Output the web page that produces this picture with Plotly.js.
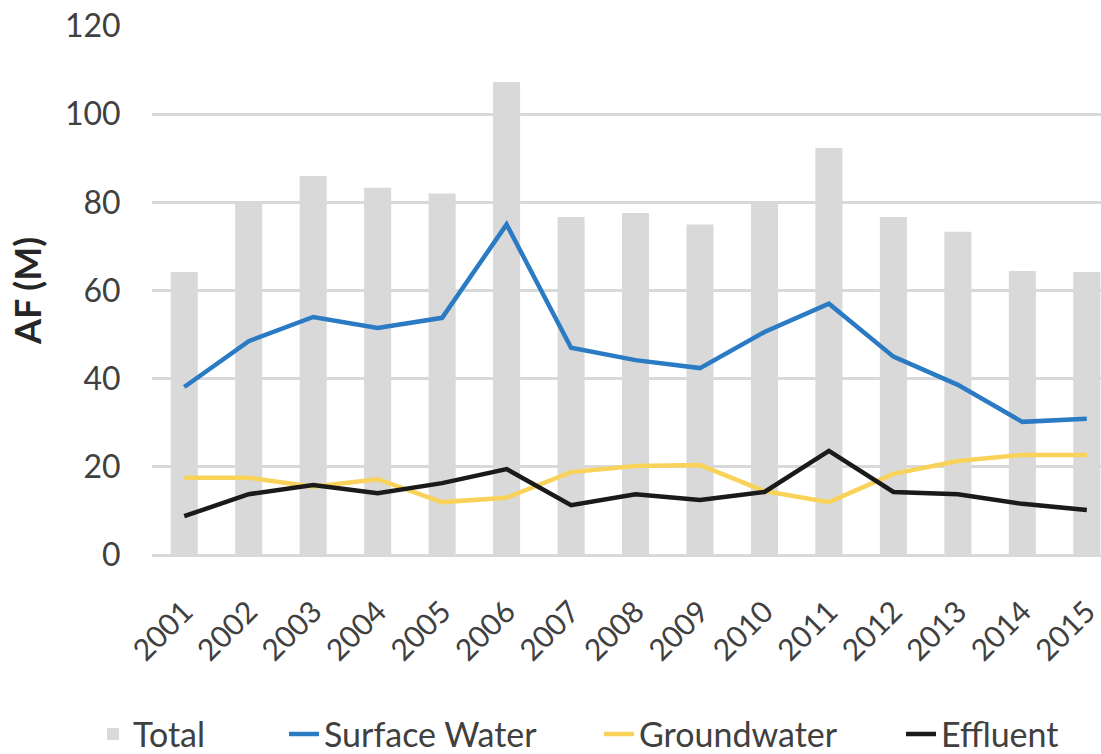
<!DOCTYPE html>
<html>
<head>
<meta charset="utf-8">
<script src="https://cdn.plot.ly/plotly-3.0.1.min.js"></script>
<style>html,body{margin:0;padding:0;background:#fff;}#chart{width:1101px;height:754px;}</style>
</head>
<body>
<div id="chart"></div>
<script>
var years = ['2001','2002','2003','2004','2005','2006','2007','2008','2009','2010','2011','2012','2013','2014','2015'];
var total = [64.2, 80, 86, 83.3, 82, 107.3, 76.7, 77.6, 75, 80, 92.3, 76.7, 73.3, 64.4, 64.2];
var surfaceWater = [38.1, 48.5, 54, 51.5, 53.8, 75, 47, 44.2, 42.4, 50.6, 57, 45, 38.6, 30.2, 30.9];
var groundwater = [17.5, 17.5, 15.5, 17.2, 12, 13, 18.8, 20.2, 20.4, 14.5, 12, 18.4, 21.3, 22.7, 22.7];
var effluent = [8.8, 13.8, 15.9, 14, 16.3, 19.5, 11.3, 13.8, 12.5, 14.3, 23.6, 14.3, 13.8, 11.6, 10.2];

var font = 'Lato, "Open Sans", sans-serif';
var traces = [
  {type:'bar', name:'Total', x:years, y:total, marker:{color:'#d9d9d9'}, width:0.42, legend:'legend'},
  {type:'scatter', mode:'lines', name:'Surface Water', x:years, y:surfaceWater, line:{color:'#2a7bc4', width:4.5}, legend:'legend2'},
  {type:'scatter', mode:'lines', name:'Groundwater', x:years, y:groundwater, line:{color:'#f9d25a', width:4.5}, legend:'legend3'},
  {type:'scatter', mode:'lines', name:'Effluent', x:years, y:effluent, line:{color:'#1a1a1a', width:4.5}, legend:'legend4'}
];
function leg(px) {
  return {orientation:'h', xref:'container', yref:'container', x:px/1101, xanchor:'left', y:0.026, yanchor:'middle',
          font:{family:font, size:34, color:'#404040'}, bgcolor:'rgba(0,0,0,0)'};
}
var layout = {
  width:1101, height:754,
  margin:{l:152, r:0, t:26, b:199},
  paper_bgcolor:'#ffffff', plot_bgcolor:'#ffffff',
  font:{family:font, size:31, color:'#404040'},
  showlegend:true,
  legend:leg(93), legend2:leg(284), legend3:leg(599), legend4:leg(901),
  xaxis:{type:'category', range:[-0.5, 14.22], tickangle:-45, showgrid:false, showline:false, zeroline:false,
         ticks:'outside', ticklen:26, tickcolor:'rgba(0,0,0,0)', tickfont:{family:font, size:30, color:'#404040'}},
  yaxis:{range:[0,120], dtick:20, showgrid:true, gridcolor:'#d9d9d9', gridwidth:3, zeroline:true, zerolinecolor:'#d9d9d9', zerolinewidth:3,
         ticks:'outside', ticklen:24, tickcolor:'rgba(0,0,0,0)', tickfont:{family:font, size:32, color:'#404040'},
         title:{text:'<b>AF (M)</b>', font:{family:font, size:36, color:'#262626'}, standoff:12}}
};
Plotly.newPlot('chart', traces, layout, {displayModeBar:false, staticPlot:true});
</script>
</body>
</html>
